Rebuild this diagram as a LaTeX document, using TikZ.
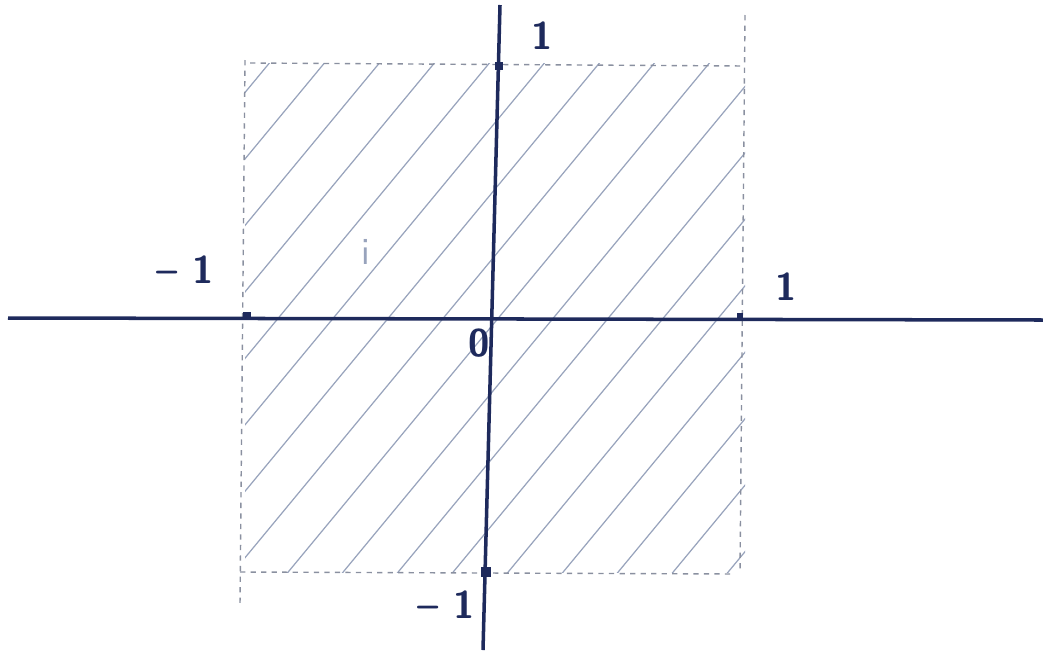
\documentclass[tikz,border=0pt]{standalone}
\usepackage{xcolor}
\usepackage{tikz}
\usetikzlibrary{positioning}
\definecolor{penBlue}{HTML}{1E2A5C}
\definecolor{hatchBlue}{HTML}{98A3BC}
\definecolor{dashGrey}{HTML}{8A90A0}

\begin{document}
\begin{tikzpicture}[x=0.02cm, y=-0.02cm, font=\sffamily\bfseries\fontsize{22}{26}\selectfont]
    \useasboundingbox (0,0) rectangle (1043,653);
    % hatched square
    \begin{scope}
        \clip (245,63) rectangle (745,572);
        \foreach \o in {-450,-395,...,800}
            \draw[hatchBlue, line width=0.7pt] (\o,600) -- ++(480,-580);
    \end{scope}
    % dashed border
    \draw[dashGrey, dashed, line width=0.8pt] (250,63) -- (745,66);
    \draw[dashGrey, dashed, line width=0.8pt] (745,15) -- (740,572);
    \draw[dashGrey, dashed, line width=0.8pt] (245,60) -- (240,605);
    \draw[dashGrey, dashed, line width=0.8pt] (240,572) -- (735,574);
    % axes
    \coordinate (xl) at (8,318);
    \coordinate (xr) at (1043,320);
    \coordinate (yt) at (500,5);
    \coordinate (yb) at (483,650);
    \draw[penBlue, line width=2pt] (xl) -- (xr);
    \draw[penBlue, line width=2pt] (yt) -- (yb);
    % ticks
    \node[fill=penBlue, inner sep=2.2pt] (xm) at (247,316) {};
    \node[fill=penBlue, inner sep=1.6pt] (xp) at (740,316) {};
    \node[fill=penBlue, inner sep=2.2pt] (yp) at (499,66) {};
    \node[fill=penBlue, inner sep=2.6pt] (ym) at (486,572) {};
    % labels
    \node[text=penBlue] (lyp) at (542,36) {1};
    \node[text=penBlue] (lxm) at (185,270) {-- 1};
    \node[text=penBlue] (lxp) at (786,287) {1};
    \node[text=penBlue] (lym) at (446,605) {-- 1};
    \node[text=penBlue] (lo) at (479,343) {0};
    \node[text=hatchBlue, font=\sffamily\fontsize{22}{26}\selectfont] (li) at (366,252) {i};
\end{tikzpicture}
\end{document}
